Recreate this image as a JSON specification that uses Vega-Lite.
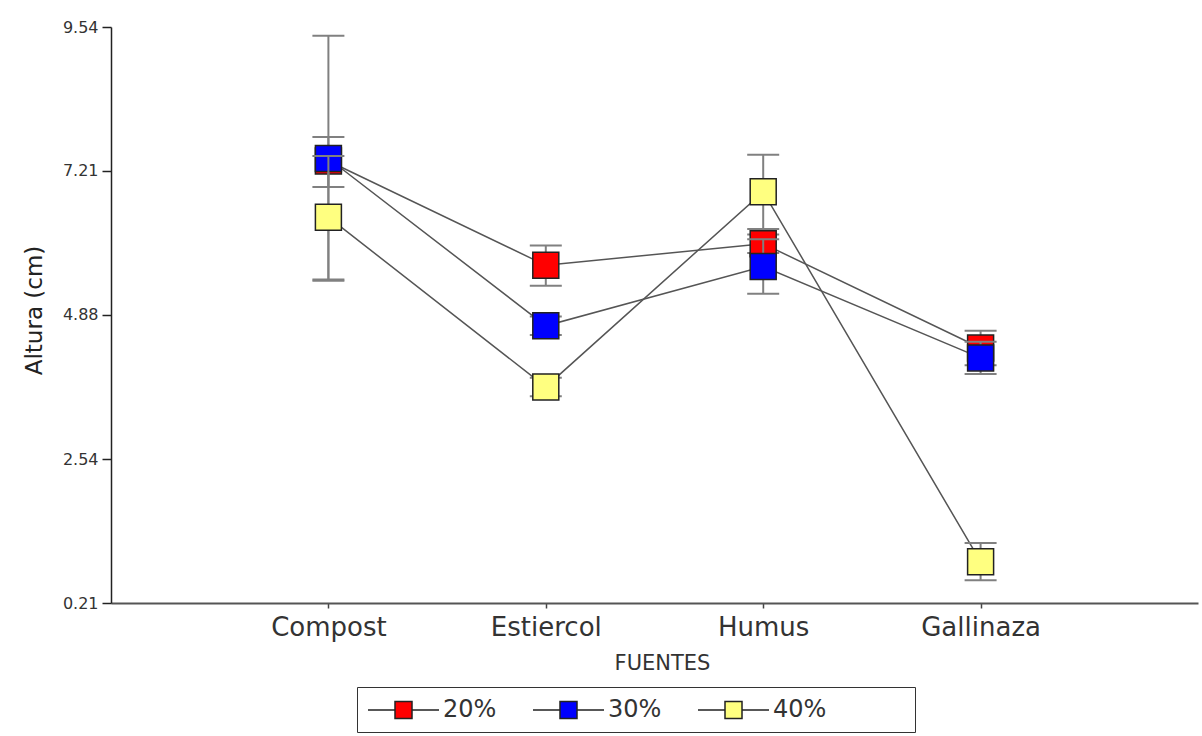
{
  "$schema": "https://vega.github.io/schema/vega-lite/v6.json",
  "width": 1087,
  "height": 576,
  "autosize": {"type": "none"},
  "padding": {"left": 111, "top": 27, "right": 4, "bottom": 133},
  "background": "white",
  "config": {"view": {"stroke": null}, "font": "DejaVu Sans"},
  "data": {
    "values": [
      {"f": "Compost", "s": "20%", "v": 7.37, "lo": 6.95, "hi": 7.76},
      {"f": "Estiercol", "s": "20%", "v": 5.68, "lo": 5.35, "hi": 6.0},
      {"f": "Humus", "s": "20%", "v": 6.03, "lo": 5.88, "hi": 6.18},
      {"f": "Gallinaza", "s": "20%", "v": 4.34, "lo": 4.06, "hi": 4.62},
      {"f": "Compost", "s": "30%", "v": 7.41, "lo": 5.43, "hi": 9.4},
      {"f": "Estiercol", "s": "30%", "v": 4.7, "lo": 4.55, "hi": 4.85},
      {"f": "Humus", "s": "30%", "v": 5.66, "lo": 5.22, "hi": 6.1},
      {"f": "Gallinaza", "s": "30%", "v": 4.18, "lo": 3.92, "hi": 4.44},
      {"f": "Compost", "s": "40%", "v": 6.46, "lo": 5.45, "hi": 7.45},
      {"f": "Estiercol", "s": "40%", "v": 3.71, "lo": 3.56, "hi": 3.86},
      {"f": "Humus", "s": "40%", "v": 6.87, "lo": 6.27, "hi": 7.47},
      {"f": "Gallinaza", "s": "40%", "v": 0.88, "lo": 0.58, "hi": 1.18}
    ]
  },
  "encoding": {
    "x": {
      "field": "f",
      "type": "nominal",
      "sort": ["Compost", "Estiercol", "Humus", "Gallinaza"],
      "scale": {"type": "point", "padding": 1},
      "axis": {
        "title": "FUENTES",
        "labelAngle": 0,
        "labelFontSize": 26,
        "labelColor": "#333",
        "labelPadding": 6,
        "tickSize": 5,
        "tickColor": "#444",
        "tickWidth": 1.5,
        "domainColor": "#555",
        "domainWidth": 2,
        "grid": false,
        "titleFontSize": 21,
        "titleFontWeight": "normal",
        "titleColor": "#333",
        "titleX": 551,
        "titleY": 66,
        "titleBaseline": "alphabetic"
      }
    },
    "y": {
      "field": "v",
      "type": "quantitative",
      "title": "Altura (cm)",
      "scale": {"domain": [0.21, 9.54], "nice": false, "zero": false},
      "axis": {
        "values": [0.21, 2.54, 4.88, 7.21, 9.54],
        "format": ".2f",
        "grid": false,
        "domainColor": "#222",
        "domainWidth": 1.5,
        "tickColor": "#222",
        "tickSize": 9,
        "tickWidth": 1.5,
        "labelFontSize": 16,
        "labelColor": "#333",
        "labelPadding": 4,
        "titleFontSize": 23,
        "titleFontWeight": "normal",
        "titleColor": "#222",
        "titleX": -70,
        "titleY": 283,
        "titleBaseline": "alphabetic"
      }
    }
  },
  "layer": [
    {
      "transform": [{"filter": {"field": "s", "equal": "20%"}}],
      "layer": [
        {"mark": {"type": "line", "color": "#555", "strokeWidth": 1.5}, "encoding": {}},
        {"mark": {"type": "rule", "color": "#808080", "strokeWidth": 2}, "encoding": {"y": {"field": "lo", "type": "quantitative", "title": "Altura (cm)"}, "y2": {"field": "hi"}}},
        {"mark": {"type": "tick", "color": "#808080", "thickness": 2, "size": 32, "opacity": 1}, "encoding": {"y": {"field": "lo", "type": "quantitative", "title": "Altura (cm)"}}},
        {"mark": {"type": "tick", "color": "#808080", "thickness": 2, "size": 32, "opacity": 1}, "encoding": {"y": {"field": "hi", "type": "quantitative", "title": "Altura (cm)"}}},
        {"mark": {"type": "point", "shape": "square", "filled": true, "size": 676, "stroke": "#222", "strokeWidth": 1.5, "opacity": 1},
         "encoding": {"fill": {"field": "s", "type": "nominal", "scale": {"domain": ["20%", "30%", "40%"], "range": ["#FF0000", "#0000FF", "#FFFF80"]},
           "legend": {"orient": "none", "legendX": 246, "legendY": 660, "direction": "horizontal", "title": "\u00a0", "titleOrient": "right", "titleFontSize": 10, "titlePadding": 79, "strokeColor": "#333", "padding": 10, "columnPadding": 33, "labelFontSize": 24, "labelColor": "#333", "labelOffset": 50, "symbolType": "M-1,0H1.25M2.667,0H4.917M1.25,-0.708H2.667V0.708H1.25Z", "symbolSize": 576, "symbolStrokeColor": "#222", "symbolStrokeWidth": 1.5, "symbolOpacity": 1}}}}
      ]
    },
    {
      "transform": [{"filter": {"field": "s", "equal": "30%"}}],
      "layer": [
        {"mark": {"type": "line", "color": "#555", "strokeWidth": 1.5}, "encoding": {}},
        {"mark": {"type": "rule", "color": "#808080", "strokeWidth": 2}, "encoding": {"y": {"field": "lo", "type": "quantitative", "title": "Altura (cm)"}, "y2": {"field": "hi"}}},
        {"mark": {"type": "tick", "color": "#808080", "thickness": 2, "size": 32, "opacity": 1}, "encoding": {"y": {"field": "lo", "type": "quantitative", "title": "Altura (cm)"}}},
        {"mark": {"type": "tick", "color": "#808080", "thickness": 2, "size": 32, "opacity": 1}, "encoding": {"y": {"field": "hi", "type": "quantitative", "title": "Altura (cm)"}}},
        {"mark": {"type": "point", "shape": "square", "filled": true, "size": 676, "stroke": "#222", "strokeWidth": 1.5, "opacity": 1},
         "encoding": {"fill": {"field": "s", "type": "nominal"}}}
      ]
    },
    {
      "transform": [{"filter": {"field": "s", "equal": "40%"}}],
      "layer": [
        {"mark": {"type": "line", "color": "#555", "strokeWidth": 1.5}, "encoding": {}},
        {"mark": {"type": "rule", "color": "#808080", "strokeWidth": 2}, "encoding": {"y": {"field": "lo", "type": "quantitative", "title": "Altura (cm)"}, "y2": {"field": "hi"}}},
        {"mark": {"type": "tick", "color": "#808080", "thickness": 2, "size": 32, "opacity": 1}, "encoding": {"y": {"field": "lo", "type": "quantitative", "title": "Altura (cm)"}}},
        {"mark": {"type": "tick", "color": "#808080", "thickness": 2, "size": 32, "opacity": 1}, "encoding": {"y": {"field": "hi", "type": "quantitative", "title": "Altura (cm)"}}},
        {"mark": {"type": "point", "shape": "square", "filled": true, "size": 676, "stroke": "#222", "strokeWidth": 1.5, "opacity": 1},
         "encoding": {"fill": {"field": "s", "type": "nominal"}}}
      ]
    }
  ]
}
